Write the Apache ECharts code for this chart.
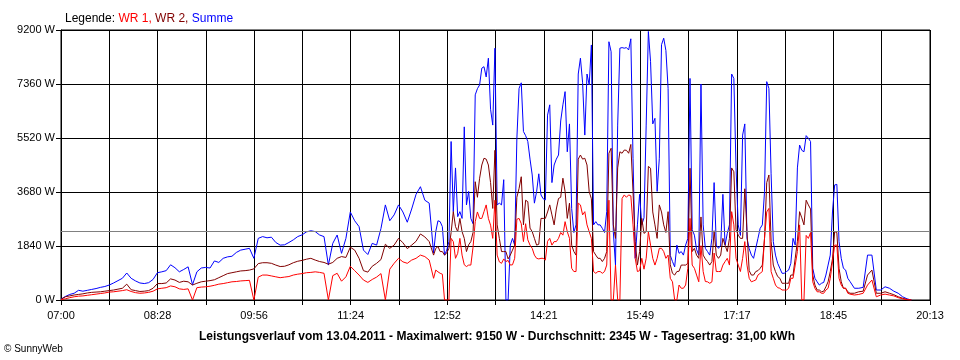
<!DOCTYPE html>
<html><head><meta charset="utf-8">
<script src="https://cdn.jsdelivr.net/npm/echarts@6/dist/echarts.min.js"></script>
<style>html,body{margin:0;padding:0;background:#fff}#c{width:960px;height:360px}</style>
</head><body><div id="c"></div>
<script>
// time in minutes after 07:00; three sampling segments
const axisEndMinutes = 793; // 20:13
const xTickLabels = ['07:00','08:28','09:56','11:24','12:52','14:21','15:49','17:17','18:45','20:13'];
const yMax = 9200, yStep = 1840;
const averageW = 2345;

// segment A: 07:00 - 12:36, every 4 min
const segA = {start: 0, step: 4};
// segment B: 12:40 - 19:00, every 2 min
const segB = {start: 340, step: 2};
// segment C: 19:04 - 19:56, every 4 min
const segC = {start: 724, step: 4};

const summeA = [
30,120,190,230,330,300,330,360,390,430,
460,510,580,660,740,920,740,650,580,560,
590,700,930,960,1000,1200,1100,960,1040,1130,
520,960,1090,1110,1090,1330,1280,1420,1470,1490,
1620,1700,1730,1760,1420,2100,2160,2120,2140,1960,
1870,1880,1960,2050,2160,2220,2320,2360,2330,2215,
2160,1190,1930,2215,1590,2100,3000,2700,2500,1700,
1550,1930,1870,2440,3240,2700,2900,3240,3000,2650,
3100,3600,3860,3400,3300];
const summeB = [
1600,2330,2700,2670,2500,1530,1700,1990,5400,3010,
4500,2840,3010,2780,5900,3240,3700,2780,2600,6990,
7200,7330,7900,7950,7600,8240,6500,5960,8580,3240,
3300,3240,4100,0,0,1870,2100,1870,5500,7210,
7400,5740,5600,5400,4800,4260,3300,3690,4300,3580,
3450,3410,6300,6650,4000,4600,4800,4940,6100,6650,
7100,5050,6000,3120,2300,2560,7700,8240,7400,5620,
7700,7330,8690,2560,2670,2560,2560,2440,2300,3010,
8800,8460,2330,1190,5960,8580,8600,8580,8600,8520,
8900,4830,1420,2560,3600,2560,2800,5960,9150,8120,
6000,6190,3700,4830,8700,8920,8500,7210,1520,1310,
1130,1870,1590,1650,1530,1870,2100,7550,2400,2210,
1720,1530,7360,2560,1760,1650,1530,2100,4000,1870,
1760,1870,3600,1870,2270,2560,7700,7550,4500,2560,
2200,5620,6000,2100,1750,1530,1420,1760,2100,2440,
2560,3690,7440,7210,4300,1990,1530,1250,1080,910,
910,970,1020,1250,2100,1870,4500,5280,5100,5050,
5600,5510,5400,1080,740,620,510,570,600,850,
1190,1530,3000,3920,3940,1990,1420,1080,1020,740,
630];
const summeC = [400,400,430,1530,1530,340,340,450,400,300,230,110,40,0];

const wr2A = [
20,110,140,170,190,210,240,260,270,280,
300,320,340,370,400,540,350,320,290,300,
320,400,560,560,580,720,680,600,640,620,
510,570,620,640,660,690,760,830,900,930,
960,990,1000,1020,1060,1240,1270,1270,1250,1190,
1140,1150,1200,1270,1320,1350,1390,1420,1360,1310,
1280,1220,1280,1420,1480,1450,1800,1700,1420,1000,
950,1150,1250,1380,1900,1760,1870,2100,1950,1750,
1870,2000,2250,2150,1990];
const wr2B = [
1530,1760,1820,1650,1650,1530,1600,1760,2300,3010,
2500,2330,2780,2330,2100,1650,1880,1990,2300,4030,
3500,4150,4600,4830,4800,4600,4000,3120,5100,2560,
2100,1650,1650,1650,1400,1530,1700,1870,3500,3800,
4200,2560,3400,3350,2450,2330,2100,1870,1900,2780,
2780,2780,3000,3240,2900,2560,3100,3460,3500,4150,
3700,2780,3300,1870,1650,1530,4800,4940,4800,4830,
4600,3690,3450,1650,1530,1420,1420,1310,1420,1650,
5000,5170,2560,2100,4500,5050,5000,5110,5100,5000,
5300,3690,1990,1190,1650,2780,2270,2330,4550,4490,
3000,2560,2100,3240,3000,2560,2300,3010,1200,910,
850,970,980,1190,1190,1190,1250,4490,1650,1760,
1530,1420,2830,1530,1400,1310,1190,1310,2360,1530,
1420,1530,2100,1870,1650,2100,4500,4370,2400,2210,
2100,2100,3790,2330,1000,850,850,970,1000,1080,
1190,2100,4000,4260,2000,1190,966,800,740,570,
570,570,570,850,850,1420,2000,3010,2800,2560,
3400,3240,3100,850,510,340,340,280,300,450,
620,970,1400,2330,2300,1080,620,400,400,280,
230];
const wr2C = [230,280,300,850,1020,230,230,280,230,180,110,60,20,0];

const wr1A = [
10,40,80,110,130,140,160,180,200,220,
240,270,280,300,320,350,290,250,230,240,
260,300,380,400,420,480,450,380,360,380,
0,420,440,450,470,500,540,560,590,620,
630,650,660,670,0,780,850,850,820,790,
760,780,800,850,880,900,930,940,960,940,
910,0,830,910,640,790,1150,1000,850,680,
600,700,780,900,0,1050,1250,1420,1300,1250,
1360,1420,1530,1480,1360];
const wr1B = [
740,1020,960,910,880,0,0,0,2100,1990,
1420,1590,2100,1530,1200,1140,1190,1190,1800,2670,
3000,2780,2780,3010,3240,2780,2550,2100,3400,1530,
1300,1250,1400,1310,1350,1190,1200,1420,2750,2780,
2600,1990,2600,2050,1870,1760,1530,1420,1400,1420,
1420,1360,2000,2100,1870,1990,1990,2100,2300,2210,
2670,2330,2100,1080,970,970,3300,3240,2900,3010,
2560,2330,2100,970,910,970,970,910,970,1190,
3400,0,0,1190,0,0,3460,3580,3500,3580,
3550,2560,1420,970,1000,1420,1050,1420,2330,1870,
1420,1190,1420,1760,1760,1650,1420,1530,740,620,
0,0,510,400,400,510,1080,2780,1190,1080,
850,620,1850,970,630,620,570,620,1600,970,
970,970,1190,1310,1420,1190,3010,2560,1420,1190,
970,1420,1990,1190,740,620,650,680,850,910,
970,2100,3000,3120,970,740,510,420,400,340,
340,340,400,740,740,1190,1650,2560,0,0,
2200,2100,2300,620,400,280,280,230,230,340,
400,740,1300,1870,1870,740,510,400,400,230,
200];
const wr1C = [170,190,230,510,680,110,170,200,170,140,80,40,10,0];

const seg = (s, arr) => arr.map((v, i) => [s.start + i * s.step, v]);
const series3 = (a, b, c) => seg(segA, a).concat(seg(segB, b), seg(segC, c));
const xInterval = axisEndMinutes / 18;
const FONT = '"Liberation Sans", Arial, sans-serif';

const chart = echarts.init(document.getElementById('c'), null, {renderer: 'canvas'});
chart.setOption({
  animation: false,
  backgroundColor: '#fff',
  textStyle: {fontFamily: FONT},
  title: {
    left: 60, top: 8,
    text: '{k|Legende: }{a|WR 1, }{b|WR 2, }{c|Summe}',
    textStyle: {
      fontWeight: 'normal',
      rich: {
        k: {color: '#000', fontSize: 12, fontWeight: 'normal', fontFamily: FONT},
        a: {color: '#ff0000', fontSize: 12, fontWeight: 'normal', fontFamily: FONT},
        b: {color: '#800000', fontSize: 12, fontWeight: 'normal', fontFamily: FONT},
        c: {color: '#0000ff', fontSize: 12, fontWeight: 'normal', fontFamily: FONT}
      }
    }
  },
  grid: {left: 61, right: 30, top: 30, bottom: 60, show: true, borderColor: '#000', borderWidth: 1, backgroundColor: 'transparent'},
  xAxis: {
    type: 'value', min: 0, max: axisEndMinutes, interval: xInterval,
    axisLine: {show: true, lineStyle: {color: '#000', width: 1}},
    axisTick: {show: true, length: 5, lineStyle: {color: '#000'}},
    splitLine: {show: true, lineStyle: {color: '#000', width: 1}},
    axisLabel: {
      color: '#000', fontSize: 11, margin: 10, fontFamily: FONT,
      showMinLabel: true, showMaxLabel: true,
      formatter: v => { const k = Math.round(v / xInterval); return k % 2 === 0 ? (xTickLabels[k / 2] || '') : ''; }
    }
  },
  yAxis: {
    type: 'value', min: 0, max: yMax, interval: yStep,
    axisLine: {show: true, lineStyle: {color: '#000', width: 1}},
    axisTick: {show: true, length: 5, lineStyle: {color: '#000'}},
    splitLine: {show: true, lineStyle: {color: '#000', width: 1}},
    axisLabel: {color: '#000', fontSize: 11, margin: 6, fontFamily: FONT, formatter: v => v + ' W'}
  },
  series: [
    {name: 'Summe', type: 'line', data: series3(summeA, summeB, summeC), showSymbol: false, symbol: 'none',
     lineStyle: {color: '#0000ff', width: 1}, itemStyle: {color: '#0000ff'},
     markLine: {silent: true, symbol: 'none', label: {show: false},
       lineStyle: {color: '#808080', type: 'solid', width: 1}, data: [{yAxis: averageW}]}},
    {name: 'WR 2', type: 'line', data: series3(wr2A, wr2B, wr2C), showSymbol: false, symbol: 'none',
     lineStyle: {color: '#800000', width: 1}, itemStyle: {color: '#800000'}},
    {name: 'WR 1', type: 'line', data: series3(wr1A, wr1B, wr1C), showSymbol: false, symbol: 'none',
     lineStyle: {color: '#ff0000', width: 1}, itemStyle: {color: '#ff0000'}}
  ],
  graphic: [
    {type: 'text', x: 497, y: 337, style: {
      text: 'Leistungsverlauf vom 13.04.2011 - Maximalwert: 9150 W - Durchschnitt: 2345 W - Tagesertrag: 31,00 kWh',
      fill: '#000', font: 'bold 12px ' + FONT, textAlign: 'center', textVerticalAlign: 'middle'}},
    {type: 'text', x: 4, y: 349, style: {
      text: '© SunnyWeb', fill: '#000', font: '10px ' + FONT, textAlign: 'left', textVerticalAlign: 'middle'}}
  ]
});
</script>
</body></html>
